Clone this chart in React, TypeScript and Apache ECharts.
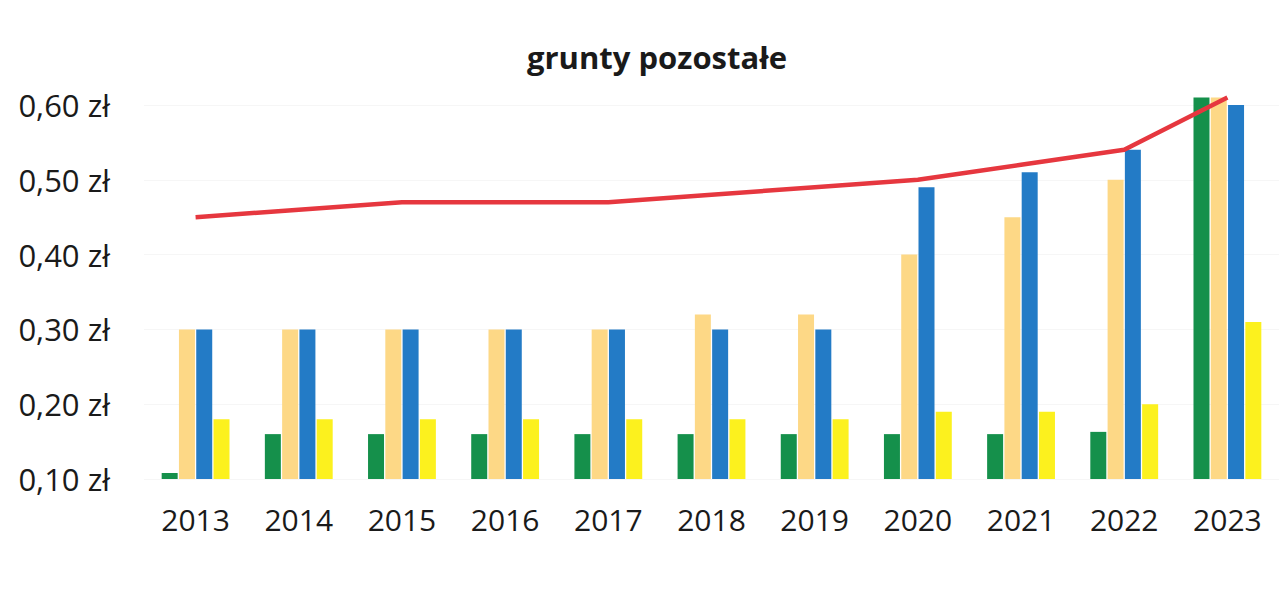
import React, { useEffect, useRef } from "react";
import * as echarts from "echarts";

const years = ["2013", "2014", "2015", "2016", "2017", "2018", "2019", "2020", "2021", "2022", "2023"];
const greenValues = [0.108, 0.16, 0.16, 0.16, 0.16, 0.16, 0.16, 0.16, 0.16, 0.163, 0.61];
const peachValues = [0.3, 0.3, 0.3, 0.3, 0.3, 0.32, 0.32, 0.4, 0.45, 0.5, 0.61];
const blueValues = [0.3, 0.3, 0.3, 0.3, 0.3, 0.3, 0.3, 0.49, 0.51, 0.54, 0.6];
const yellowValues = [0.18, 0.18, 0.18, 0.18, 0.18, 0.18, 0.18, 0.19, 0.19, 0.2, 0.31];
const lineValues = [0.45, 0.46, 0.47, 0.47, 0.47, 0.48, 0.49, 0.5, 0.52, 0.54, 0.61];
const yTicks = { min: 0.1, max: 0.62, interval: 0.1 };
const title = "grunty pozostałe";

export default function App() {
  const ref = useRef<HTMLDivElement>(null);
  useEffect(() => {
    if (!ref.current) return;
    const chart = echarts.init(ref.current, null, { renderer: "svg" });
    const font = "'Open Sans', 'Noto Sans', sans-serif";
    const bar = (name: string, data: number[], color: string) => ({
      name,
      type: "bar",
      data,
      barWidth: 16,
      barGap: "8%",
      itemStyle: { color },
      z: 2,
    });
    chart.setOption({
      animation: false,
      backgroundColor: "#ffffff",
      title: {
        text: title,
        left: 652,
        top: 36,
        textAlign: "center",
        textStyle: { fontFamily: font, fontWeight: "bold", fontSize: 31, color: "#1a1a1a" },
      },
      grid: { left: 144, right: -10, top: 90, bottom: 132, containLabel: false },
      xAxis: {
        type: "category",
        data: years,
        axisLine: { show: false },
        axisTick: { show: false },
        axisLabel: { fontFamily: font, fontSize: 30, color: "#1a1a1a", margin: 25 },
      },
      yAxis: {
        type: "value",
        min: yTicks.min,
        max: yTicks.max,
        interval: yTicks.interval,
        axisLine: { show: false },
        axisTick: { show: false },
        splitLine: { showMaxLine: false, lineStyle: { color: "#f6f6f6", width: 1 } },
        axisLabel: {
          fontFamily: font,
          fontSize: 31,
          color: "#1a1a1a",
          margin: 34,
          showMaxLabel: false,
          formatter: (v: number) => v.toFixed(2).replace(".", ",") + " zł",
        },
      },
      series: [
        bar("green", greenValues, "#15904b"),
        bar("peach", peachValues, "#fdd886"),
        bar("blue", blueValues, "#237bc6"),
        bar("yellow", yellowValues, "#fcf11e"),
        {
          name: "line",
          type: "line",
          data: lineValues,
          showSymbol: false,
          symbol: "none",
          lineStyle: { color: "#e6373f", width: 4.5 },
          z: 5,
        },
      ],
    });
    return () => chart.dispose();
  }, []);
  return (
    <div
      ref={ref}
      style={{ position: "fixed", left: 0, top: 0, width: 1279, height: 611, background: "#fff" }}
    />
  );
}
